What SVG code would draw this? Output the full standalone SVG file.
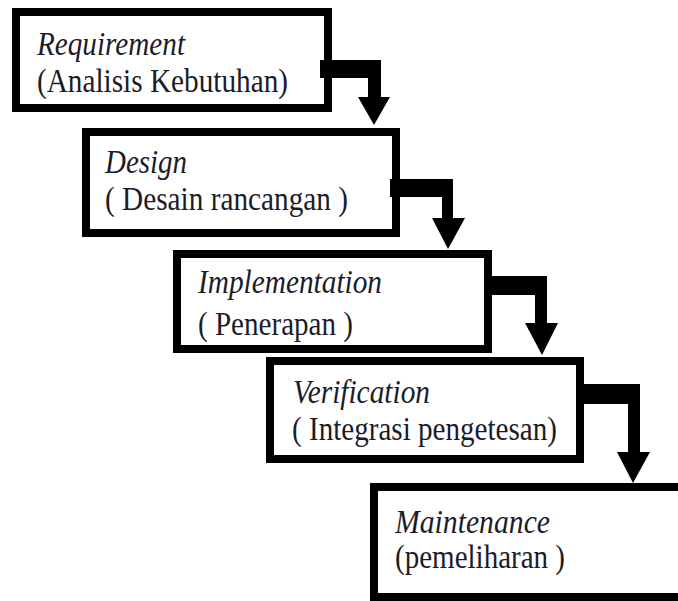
<svg xmlns="http://www.w3.org/2000/svg" width="678" height="601" viewBox="0 0 678 601">
<style>
.box{fill:#ffffff;stroke:#000000;stroke-width:8}
.t{font-family:"Liberation Serif","Times New Roman",serif;font-size:33px;fill:#1c1c28}
.i{font-style:italic}
.conn{fill:#000000}
</style>
<rect x="0" y="0" width="678" height="601" fill="#ffffff"/>
<g id="node-requirement">
<rect class="box" x="16" y="12" width="312" height="96"/>
<text class="t i" x="37" y="55" textLength="148" lengthAdjust="spacingAndGlyphs">Requirement</text>
<text class="t" x="37" y="92" textLength="251" lengthAdjust="spacingAndGlyphs">(Analisis Kebutuhan)</text>
</g>
<g id="node-design">
<rect class="box" x="86" y="132" width="310" height="101"/>
<text class="t i" x="105" y="173" textLength="82" lengthAdjust="spacingAndGlyphs">Design</text>
<text class="t" x="105" y="210" textLength="243" lengthAdjust="spacingAndGlyphs">( Desain rancangan )</text>
</g>
<g id="node-implementation">
<rect class="box" x="177" y="254" width="311" height="95"/>
<text class="t i" x="198" y="293" textLength="184" lengthAdjust="spacingAndGlyphs">Implementation</text>
<text class="t" x="198" y="335" textLength="155" lengthAdjust="spacingAndGlyphs">( Penerapan )</text>
</g>
<g id="node-verification">
<rect class="box" x="270" y="361" width="310" height="98"/>
<text class="t i" x="293" y="403" textLength="137" lengthAdjust="spacingAndGlyphs">Verification</text>
<text class="t" x="292" y="440" textLength="265" lengthAdjust="spacingAndGlyphs">( Integrasi pengetesan)</text>
</g>
<g id="node-maintenance">
<rect class="box" x="374" y="487" width="320" height="110"/>
<text class="t i" x="395" y="533" textLength="155" lengthAdjust="spacingAndGlyphs">Maintenance</text>
<text class="t" x="395" y="568" textLength="170" lengthAdjust="spacingAndGlyphs">(pemeliharan )</text>
</g>
<g id="connectors">
<path class="conn" d="M320 60 H381 V97 H390 L374 125 L358 97 H368 V78 H320 Z"/>
<path class="conn" d="M390 179 H453 V218 H465 L448 249 L432 218 H442 V197 H390 Z"/>
<path class="conn" d="M485 276 H547 V323 H558 L542 355 L525 323 H535 V295 H485 Z"/>
<path class="conn" d="M577 384 H640 V452 H650 L633 483 L617 452 H628 V404 H577 Z"/>
</g>
</svg>
